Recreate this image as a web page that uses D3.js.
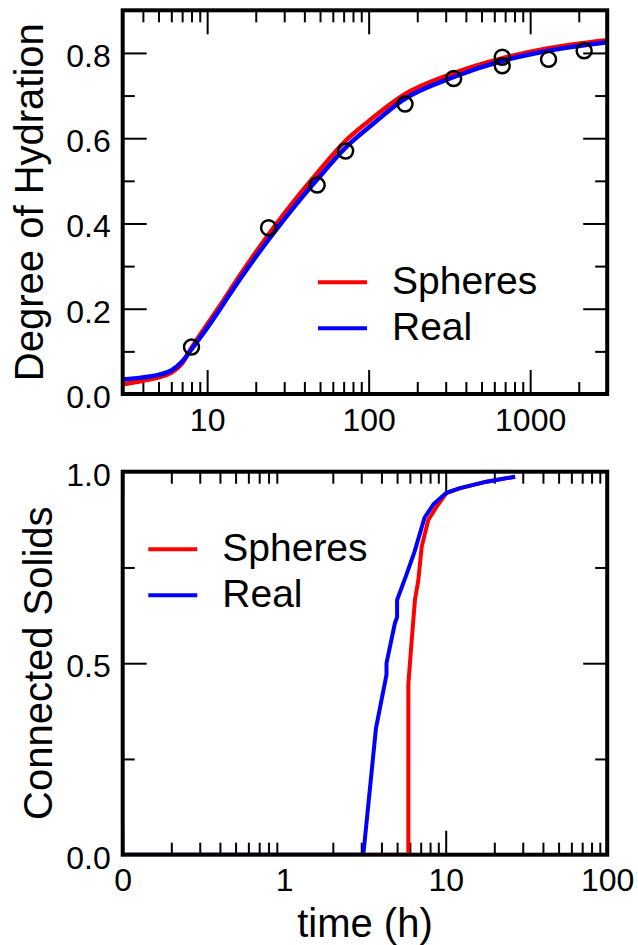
<!DOCTYPE html>
<html>
<head>
<meta charset="utf-8">
<script src="https://cdn.jsdelivr.net/npm/d3@7"></script>
<style>
  body { margin: 0; background: #fff; }
  text { font-family: "Liberation Sans", Arial, sans-serif; }
</style>
</head>
<body>
<script>
// top panel: degree of hydration vs time
const hydTimes = [3, 4, 5, 6, 7, 8, 10, 12, 16, 24, 38, 48, 72, 100, 164, 334, 667, 1300, 3000]
const hydSpheres = [0.023, 0.031, 0.039, 0.050, 0.072, 0.108, 0.163, 0.207, 0.279, 0.374, 0.472, 0.518, 0.594, 0.640, 0.701, 0.752, 0.787, 0.811, 0.830]
const hydReal = [0.034, 0.039, 0.045, 0.055, 0.076, 0.105, 0.155, 0.199, 0.270, 0.362, 0.458, 0.503, 0.578, 0.625, 0.690, 0.743, 0.781, 0.805, 0.825]
const expTimes = [8, 24, 48, 72, 168, 336, 672, 672, 1300, 2160]
const expValues = [0.11, 0.39, 0.49, 0.57, 0.68, 0.74, 0.79, 0.77, 0.785, 0.805]

// bottom panel: connected solids vs time
const sphTimes = [0.1, 5.87, 5.87, 6.16, 6.45, 6.77, 7.1, 7.8, 8.8, 10.1, 12.3, 17.9, 26.9]
const sphValues = [0, 0, 0.445, 0.56, 0.665, 0.717, 0.804, 0.874, 0.909, 0.944, 0.957, 0.974, 0.987]
const realTimes = [0.1, 3.09, 3.7, 4.3, 4.3, 4.85, 5.0, 5.0, 5.7, 6.4, 7.4, 8.4, 10.1, 12.3, 17.9, 26.9]
const realValues = [0, 0, 0.33, 0.47, 0.50, 0.605, 0.62, 0.665, 0.73, 0.79, 0.88, 0.915, 0.945, 0.957, 0.974, 0.987]

const legendNames = ["Spheres", "Real"]
const colors = ["#ff0000", "#0000ff"]

const svgWidth = 638
const svgHeight = 945
const left = 122.7
const right = 607.2
const tickFont = 32

const svg = d3.select("body").append("svg")
  .attr("width", svgWidth)
  .attr("height", svgHeight)

function minorsOf(lo, hi) {
  const out = []
  for (let p = Math.floor(Math.log10(lo)); p < Math.log10(hi); p++) {
    for (let m = 2; m <= 9; m++) {
      const v = m * Math.pow(10, p)
      if (v > lo && v < hi) out.push(v)
    }
  }
  return out
}

function styleAxis(g) {
  g.select(".domain").remove()
  g.selectAll(".tick line").attr("stroke", "#000").attr("stroke-width", 2)
  g.selectAll("text")
    .attr("font-family", "Liberation Sans, Arial, sans-serif")
    .attr("font-size", tickFont)
    .attr("fill", "#000")
}

function panel(opts) {
  const x = d3.scaleLog().domain(opts.xDomain).range([left, right])
  const y = d3.scaleLinear().domain(opts.yDomain).range([opts.bottom, opts.top])
  const g = svg.append("g")

  // x ticks bottom (labels) and top
  g.append("g").attr("transform", `translate(0,${opts.bottom})`)
    .call(d3.axisBottom(x).tickValues(opts.xMajor).tickSize(-24).tickPadding(14).tickFormat(opts.xFormat))
    .call(styleAxis)
  g.append("g").attr("transform", `translate(0,${opts.bottom})`)
    .call(d3.axisBottom(x).tickValues(minorsOf(opts.xDomain[0], opts.xDomain[1])).tickSize(-12).tickFormat(""))
    .call(styleAxis)
  g.append("g").attr("transform", `translate(0,${opts.top})`)
    .call(d3.axisTop(x).tickValues(opts.xMajor).tickSize(-24).tickFormat(""))
    .call(styleAxis)
  g.append("g").attr("transform", `translate(0,${opts.top})`)
    .call(d3.axisTop(x).tickValues(minorsOf(opts.xDomain[0], opts.xDomain[1])).tickSize(-12).tickFormat(""))
    .call(styleAxis)

  // y ticks left (labels) and right
  g.append("g").attr("transform", `translate(${left},0)`)
    .call(d3.axisLeft(y).tickValues(opts.yMajor).tickSize(-24).tickPadding(12).tickFormat(d3.format(".1f")))
    .call(styleAxis)
    .call(a => a.selectAll("text").attr("dy", "0.42em"))
  g.append("g").attr("transform", `translate(${left},0)`)
    .call(d3.axisLeft(y).tickValues(opts.yMinor).tickSize(-12).tickFormat(""))
    .call(styleAxis)
  g.append("g").attr("transform", `translate(${right},0)`)
    .call(d3.axisRight(y).tickValues(opts.yMajor).tickSize(-24).tickFormat(""))
    .call(styleAxis)
  g.append("g").attr("transform", `translate(${right},0)`)
    .call(d3.axisRight(y).tickValues(opts.yMinor).tickSize(-12).tickFormat(""))
    .call(styleAxis)

  // hide edge ticks that would sit on the frame
  g.selectAll(".tick").filter(d => d === opts.yDomain[0] || d === opts.yDomain[1])
    .select("line").remove()

  const clipId = "clip" + Math.round(opts.top)
  svg.append("clipPath").attr("id", clipId).append("rect")
    .attr("x", left).attr("y", opts.top)
    .attr("width", right - left).attr("height", opts.bottom - opts.top - 2)

  const line = d3.line().x(d => x(d[0])).y(d => y(d[1])).curve(opts.curve)
  const plot = g.append("g").attr("clip-path", `url(#${clipId})`)
  opts.series.forEach((s, i) => {
    plot.append("path")
      .attr("d", line(d3.zip(s.t, s.v)))
      .attr("fill", "none")
      .attr("stroke", colors[i])
      .attr("stroke-width", opts.lineWidth)
      .attr("stroke-linejoin", "round")
  })

  if (opts.points) {
    plot.selectAll("circle")
      .data(d3.zip(opts.points.t, opts.points.v))
      .enter().append("circle")
      .attr("cx", d => x(d[0]))
      .attr("cy", d => y(d[1]))
      .attr("r", 7.5)
      .attr("fill", "none")
      .attr("stroke", "#000")
      .attr("stroke-width", 2.5)
  }

  // frame
  g.append("rect")
    .attr("x", left).attr("y", opts.top)
    .attr("width", right - left).attr("height", opts.bottom - opts.top)
    .attr("fill", "none").attr("stroke", "#000").attr("stroke-width", 4)

  // y label
  g.append("text")
    .attr("transform", `translate(${opts.yLabelX},${(opts.top + opts.bottom) / 2}) rotate(-90)`)
    .attr("text-anchor", "middle")
    .attr("font-size", 40)
    .text(opts.yLabel)

  // legend
  const lg = g.append("g")
  legendNames.forEach((name, i) => {
    const ly = opts.legendY + i * 46
    lg.append("line")
      .attr("x1", opts.legendX).attr("x2", opts.legendX + 49)
      .attr("y1", ly).attr("y2", ly)
      .attr("stroke", colors[i]).attr("stroke-width", 4)
    lg.append("text")
      .attr("x", opts.legendX + 74).attr("y", ly + 12)
      .attr("font-size", 39)
      .text(name)
  })
  return { x, y }
}

panel({
  xDomain: [3, 3000], yDomain: [0, 0.9],
  top: 10.3, bottom: 394,
  xMajor: [10, 100, 1000], xFormat: d3.format("d"),
  yMajor: [0, 0.2, 0.4, 0.6, 0.8], yMinor: [0.1, 0.3, 0.5, 0.7],
  curve: d3.curveMonotoneX, lineWidth: 4.5,
  series: [{ t: hydTimes, v: hydSpheres }, { t: hydTimes, v: hydReal }],
  points: { t: expTimes, v: expValues },
  yLabel: "Degree of Hydration", yLabelX: 43,
  legendX: 318, legendY: 282.3
})

panel({
  xDomain: [0.1, 100], yDomain: [0, 1],
  top: 471.7, bottom: 854.7,
  xMajor: [0.1, 1, 10, 100], xFormat: d => d < 1 ? "0" : d3.format("d")(d),
  yMajor: [0, 0.5, 1], yMinor: [0.25, 0.75],
  curve: d3.curveLinear, lineWidth: 4,
  series: [{ t: sphTimes, v: sphValues }, { t: realTimes, v: realValues }],
  yLabel: "Connected Solids", yLabelX: 51.7,
  legendX: 148.3, legendY: 549.3
})

svg.append("text")
  .attr("x", (left + right) / 2).attr("y", 937)
  .attr("text-anchor", "middle")
  .attr("font-size", 40)
  .text("time (h)")
</script>
</body>
</html>
